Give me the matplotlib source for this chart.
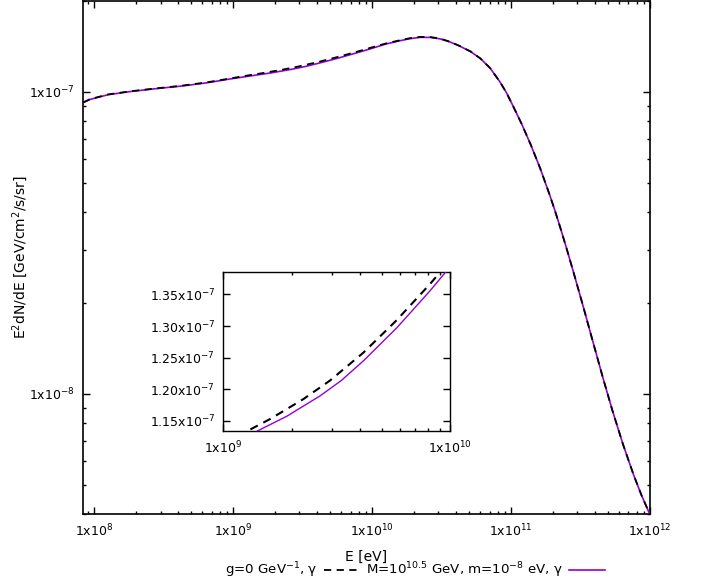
import matplotlib
matplotlib.use('Agg')
import matplotlib.pyplot as plt
import numpy as np
from matplotlib.ticker import FixedLocator, FixedFormatter, LogLocator, NullFormatter

plt.rcParams['font.family'] = ['DejaVu Sans']
plt.rcParams['mathtext.default'] = 'regular'

# spectrum: log10(E/eV) and E^2 dN/dE in units of 1e-7
logE_g0 = [7.92, 7.97, 8.10, 8.26, 8.44, 8.62, 8.80, 8.98,
           9.110, 9.206, 9.352, 9.470, 9.617, 9.764, 9.911, 9.955, 10.0,
           10.10, 10.20, 10.27, 10.345, 10.42, 10.49, 10.56, 10.63, 10.71, 10.78,
           10.85, 10.92, 10.965, 11.01, 11.075, 11.14, 11.21, 11.28, 11.315, 11.35,
           11.40, 11.45, 11.52, 11.59, 11.66, 11.73, 11.805, 11.88, 11.94, 12.0]
flux_g0 = [0.9226, 0.9462, 0.9809, 1.0046, 1.0266, 1.0471, 1.0735, 1.108,
           1.1347, 1.1529, 1.1843, 1.2138, 1.2579, 1.3094, 1.3667, 1.3852, 1.4046,
           1.447, 1.4825, 1.5055, 1.5205, 1.519, 1.501, 1.4663, 1.4198, 1.3603, 1.2896,
           1.198, 1.079, 0.9972, 0.9066, 0.7855, 0.6714, 0.5578, 0.4530, 0.4055, 0.3606,
           0.3027, 0.2523, 0.1941, 0.1483, 0.1135, 0.0879, 0.0682, 0.0542, 0.0460, 0.0398]

logE_alp = [7.92, 7.97, 8.10, 8.26, 8.44, 8.62, 8.80, 8.98,
            9.154, 9.279, 9.426, 9.52, 9.617, 9.764, 9.911, 9.977, 10.0,
            10.10, 10.20, 10.27, 10.345, 10.42, 10.49, 10.56, 10.63, 10.71, 10.78,
            10.85, 10.92, 10.965, 11.01, 11.075, 11.14, 11.21, 11.28, 11.315, 11.35,
            11.40, 11.45, 11.52, 11.59, 11.66, 11.73, 11.805, 11.88, 11.94, 12.0]
flux_alp = [0.9206, 0.9442, 0.9789, 1.0026, 1.0244, 1.0445, 1.0700, 1.104,
            1.1347, 1.1572, 1.1895, 1.2139, 1.2449, 1.2971, 1.3559, 1.3843, 1.3944,
            1.441, 1.477, 1.500, 1.516, 1.515, 1.498, 1.464, 1.418, 1.359, 1.289,
            1.198, 1.079, 0.9972, 0.9066, 0.7855, 0.6714, 0.5578, 0.4530, 0.4055, 0.3606,
            0.3027, 0.2523, 0.1941, 0.1483, 0.1135, 0.0879, 0.0682, 0.0542, 0.0460, 0.0398]

label_g0 = r'g=0 GeV$^{-1}$, γ'
label_alp = r'M=10$^{10.5}$ GeV, m=10$^{-8}$ eV, γ'

x_major = [1e8, 1e9, 1e10, 1e11, 1e12]
x_labels = [r'1x10$^{8}$', r'1x10$^{9}$', r'1x10$^{10}$', r'1x10$^{11}$', r'1x10$^{12}$']
y_major = [1e-8, 1e-7]
y_labels = [r'1x10$^{-8}$', r'1x10$^{-7}$']

ins_x_major = [1e9, 1e10]
ins_x_labels = [r'1x10$^{9}$', r'1x10$^{10}$']
ins_y_major = [1.15e-7, 1.20e-7, 1.25e-7, 1.30e-7, 1.35e-7]
ins_y_labels = [r'1.15x10$^{-7}$', r'1.20x10$^{-7}$', r'1.25x10$^{-7}$',
                r'1.30x10$^{-7}$', r'1.35x10$^{-7}$']

E_g0 = 10 ** np.array(logE_g0)
F_g0 = np.array(flux_g0) * 1e-7
E_alp = 10 ** np.array(logE_alp)
F_alp = np.array(flux_alp) * 1e-7

purple = '#9400D3'
fs = 9
fs_lab = 10

fig = plt.figure(figsize=(7.06, 5.83), dpi=100)
ax = fig.add_axes([83 / 706, 1 - 514 / 583, (650 - 83) / 706, (514 - 1) / 583])

ax.plot(E_alp, F_alp, color=purple, lw=1.2, label=label_alp, zorder=3)
ax.plot(E_g0, F_g0, color='black', lw=1.3, ls=(0, (4, 3)), label=label_g0, zorder=4)
ax.set_xscale('log')
ax.set_yscale('log')
ax.set_xlim(8.3e7, 1e12)
ax.set_ylim(4e-9, 2e-7)

ax.xaxis.set_major_locator(FixedLocator(x_major))
ax.xaxis.set_major_formatter(FixedFormatter(x_labels))
ax.xaxis.set_minor_locator(LogLocator(base=10, subs=np.arange(2, 10)))
ax.xaxis.set_minor_formatter(NullFormatter())
ax.yaxis.set_major_locator(FixedLocator(y_major))
ax.yaxis.set_major_formatter(FixedFormatter(y_labels))
ax.yaxis.set_minor_locator(LogLocator(base=10, subs=np.arange(2, 10)))
ax.yaxis.set_minor_formatter(NullFormatter())
ax.tick_params(which='both', direction='in', top=True, right=True, labelsize=fs, width=1)
ax.tick_params(which='major', length=5, pad=6)
ax.tick_params(which='minor', length=2.5)
for s in ax.spines.values():
    s.set_linewidth(1.2)

ax.set_xlabel('E [eV]', fontsize=fs_lab, labelpad=8)
ax.set_ylabel(r'E$^2$dN/dE [GeV/cm$^2$/s/sr]', fontsize=fs_lab)
ax.yaxis.set_label_coords(-0.094, 0.5)

# inset: zoom on 1e9 - 1e10 eV
axi = fig.add_axes([223.3 / 706, 1 - 431 / 583, (450.3 - 223.3) / 706, (431 - 271.7) / 583])
axi.plot(E_alp, F_alp, color=purple, lw=1.0, zorder=3)
axi.plot(E_g0, F_g0, color='black', lw=1.5, ls=(0, (4, 3)), zorder=4)
axi.set_xscale('log')
axi.set_xlim(1e9, 1e10)
axi.set_ylim(1.134e-7, 1.386e-7)
axi.xaxis.set_major_locator(FixedLocator(ins_x_major))
axi.xaxis.set_major_formatter(FixedFormatter(ins_x_labels))
axi.xaxis.set_minor_locator(LogLocator(base=10, subs=np.arange(2, 10)))
axi.xaxis.set_minor_formatter(NullFormatter())
axi.yaxis.set_major_locator(FixedLocator(ins_y_major))
axi.yaxis.set_major_formatter(FixedFormatter(ins_y_labels))
axi.tick_params(which='both', direction='in', top=True, right=True, labelsize=fs, width=1)
axi.tick_params(which='major', length=5, pad=6)
axi.tick_params(which='minor', length=2.5)
for s in axi.spines.values():
    s.set_linewidth(1.0)

h, l = ax.get_legend_handles_labels()
fig.legend(h[::-1], l[::-1], loc='center', bbox_to_anchor=(0.588, 0.022), ncol=2,
           frameon=False, markerfirst=False, fontsize=9.6, handlelength=2.7,
           handletextpad=0.5, columnspacing=0.4, borderaxespad=0)

fig.savefig('out.png', dpi=100)
